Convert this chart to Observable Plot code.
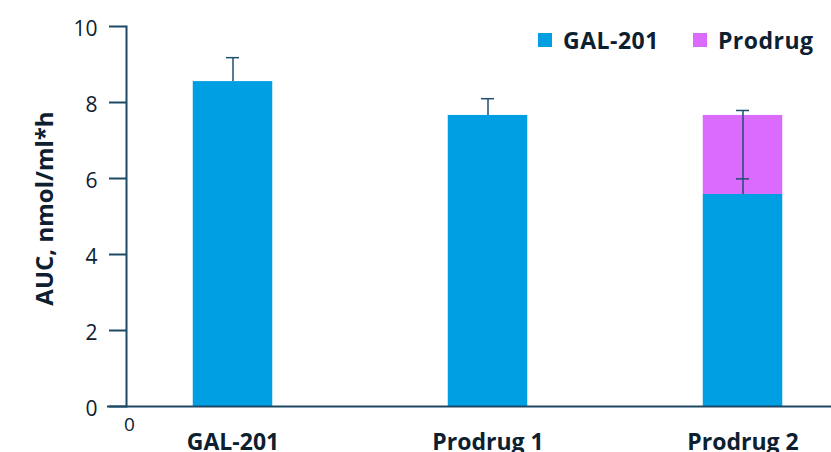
<!DOCTYPE html>
<html>
<head>
<meta charset="utf-8">
<script src="https://cdn.jsdelivr.net/npm/d3@7"></script>
<script src="https://cdn.jsdelivr.net/npm/@observablehq/plot@0.6"></script>
<style>
  html, body { margin: 0; padding: 0; background: #fff; }
  #wrap { position: relative; width: 831px; height: 452px; overflow: hidden; font-family: "Open Sans", sans-serif; }
  #legend { position: absolute; top: 25px; left: 538px; display: flex; align-items: center; white-space: nowrap; font-weight: bold; font-size: 23px; letter-spacing: 0.5px; color: #0d2030; line-height: 30px; width: 320px; }
  #legend .sw { width: 14px; height: 14px; display: inline-block; margin-right: 11px; flex: none; }
  #legend .item { display: flex; align-items: center; margin-right: 34px; white-space: nowrap; }
</style>
</head>
<body>
<div id="wrap"><div id="legend"></div></div>
<script>
const categories = ["GAL-201", "Prodrug 1", "Prodrug 2"];
const seriesNames = ["GAL-201", "Prodrug"];
const colors = ["#009FE3", "#DB6BFE"];
const gal201Values = [8.55, 7.66, 5.58];
const prodrugValues = [0, 0, 2.08];
const errLow = [8.55, 7.66, 5.58];
const errHigh = [9.18, 8.10, 7.79];
const errCaps = [[9.18], [8.10], [5.99, 7.79]];
const yTicks = [0, 2, 4, 6, 8, 10];
const yLabel = "AUC, nmol/ml*h";
const originLabel = "0";

const stacked = [];
categories.forEach((c, i) => {
  stacked.push({cat: c, series: seriesNames[0], value: gal201Values[i]});
  stacked.push({cat: c, series: seriesNames[1], value: prodrugValues[i]});
});
const errs = categories.map((c, i) => ({cat: c, lo: errLow[i], hi: errHigh[i]}));
const caps = categories.flatMap((c, i) => errCaps[i].map(v => ({cat: c, v})));

const axisColor = "#1c4866";
const textColor = "#0d2030";

const chart = Plot.plot({
  width: 831,
  height: 452,
  marginLeft: 107,
  marginRight: 0,
  marginTop: 26,
  marginBottom: 46,
  style: {fontFamily: "Open Sans, sans-serif", color: textColor, background: "white"},
  x: {domain: categories, range: [104.25, 870.75], padding: 0},
  y: {domain: [0, 10]},
  color: {domain: seriesNames, range: colors},
  marks: [
    Plot.barY(stacked, {x: "cat", y: "value", fill: "series", insetLeft: 87.75, insetRight: 87.75}),
    Plot.ruleX(errs, {x: "cat", y1: "lo", y2: "hi", stroke: "#1f4e6e", strokeWidth: 1.5}),
    Plot.tickY(caps, {x: "cat", y: "v", stroke: "#1f4e6e", strokeWidth: 1.5, insetLeft: 121, insetRight: 121}),
    Plot.ruleY([0], {stroke: axisColor, strokeWidth: 2}),
    Plot.frame({anchor: "left", dx: 19, stroke: axisColor, strokeWidth: 2}),
    Plot.axisY(yTicks, {anchor: "left", dx: 19, tickSize: 17, tickFormat: () => "", stroke: axisColor, strokeWidth: 2, label: null}),
    Plot.axisY(yTicks, {anchor: "left", dx: 19, dy: 3, tickSize: 0, tickPadding: 29, fontSize: 21, fill: textColor, label: null}),
    Plot.axisX({tickSize: 0, tickPadding: 27, fontSize: 23, fontWeight: "bold", letterSpacing: "1px", fill: textColor, label: null}),
    Plot.text([yLabel], {text: d => d, frameAnchor: "left", rotate: -90, dx: -62, dy: -8, fontSize: 24, fontWeight: "bold", fill: textColor, textAnchor: "middle", lineAnchor: "middle"}),
    Plot.text([originLabel], {text: d => d, frameAnchor: "bottom-left", dx: 22, dy: 11, fontSize: 19, fill: textColor, textAnchor: "middle", lineAnchor: "top"})
  ]
});
const wrap = document.getElementById("wrap");
wrap.insertBefore(chart, wrap.firstChild);

const legend = document.getElementById("legend");
seriesNames.forEach((s, i) => {
  const item = document.createElement("span");
  item.className = "item";
  const sw = document.createElement("span");
  sw.className = "sw";
  sw.style.background = colors[i];
  item.appendChild(sw);
  item.appendChild(document.createTextNode(s));
  legend.appendChild(item);
});
</script>
</body>
</html>
